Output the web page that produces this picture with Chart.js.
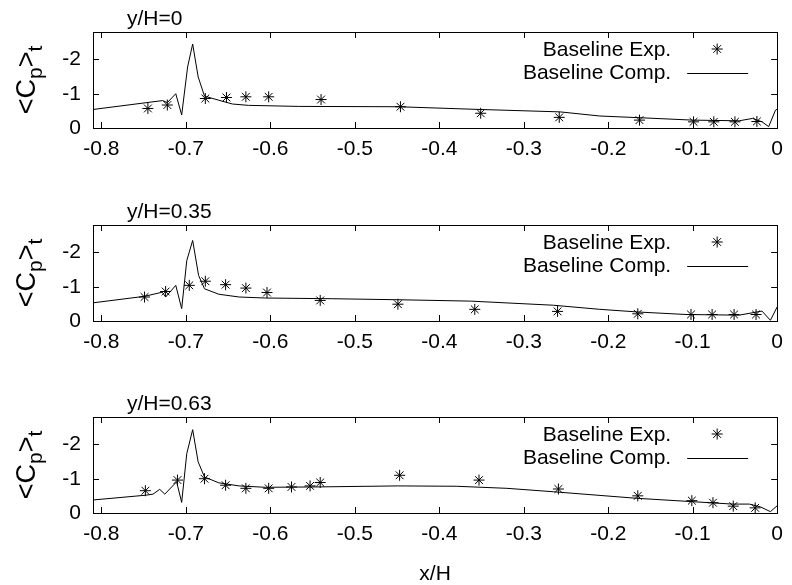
<!DOCTYPE html>
<html lang="en">
<head>
    <meta charset="UTF-8">
    <title>Cp profiles</title>
    <script src="https://cdn.jsdelivr.net/npm/chart.js"></script>
    <style>
        body { margin: 0; background: #fff; }
        .panel { position: absolute; left: 0; }
    </style>
</head>
<body>
    <div class="panel" style="top:0px"><canvas id="chart0" width="792" height="170"></canvas></div>
    <div class="panel" style="top:193px"><canvas id="chart1" width="792" height="170"></canvas></div>
    <div class="panel" style="top:385px"><canvas id="chart2" width="792" height="200"></canvas></div>

    <script>
        // axis ticks
        const xTicks = [-0.8, -0.7, -0.6, -0.5, -0.4, -0.3, -0.2, -0.1, 0];
        const yTicks = [0, -1, -2];
        const titles = ['y/H=0', 'y/H=0.35', 'y/H=0.63'];

        // y/H=0
        const xExp0 = [-0.745, -0.722, -0.677, -0.652, -0.629, -0.602, -0.540, -0.446, -0.351, -0.258, -0.163, -0.099, -0.075, -0.050, -0.024];
        const cpExp0 = [-0.57, -0.67, -0.86, -0.89, -0.91, -0.91, -0.83, -0.62, -0.43, -0.31, -0.23, -0.18, -0.18, -0.18, -0.19];
        const xComp0 = [-0.81, -0.7275, -0.722, -0.712, -0.705, -0.698, -0.692, -0.6855, -0.678, -0.661, -0.645, -0.626, -0.567, -0.449, -0.351, -0.257, -0.210, -0.163, -0.100, -0.045, -0.029, -0.018, -0.010, -0.002, 0];
        const cpComp0 = [-0.54, -0.80, -0.74, -1.00, -0.38, -1.78, -2.45, -1.49, -0.93, -0.81, -0.70, -0.66, -0.63, -0.62, -0.54, -0.47, -0.35, -0.30, -0.23, -0.21, -0.28, -0.18, -0.04, -0.52, -0.55];

        // y/H=0.35
        const xExp1 = [-0.749, -0.724, -0.696, -0.677, -0.653, -0.629, -0.604, -0.541, -0.449, -0.358, -0.260, -0.165, -0.102, -0.077, -0.051, -0.025];
        const cpExp1 = [-0.70, -0.86, -1.04, -1.16, -1.06, -0.96, -0.83, -0.60, -0.49, -0.34, -0.28, -0.21, -0.19, -0.19, -0.19, -0.19];
        const xComp1 = [-0.81, -0.749, -0.728, -0.724, -0.712, -0.705, -0.699, -0.692, -0.685, -0.678, -0.661, -0.637, -0.606, -0.528, -0.449, -0.363, -0.265, -0.210, -0.163, -0.108, -0.045, -0.018, -0.008, 0];
        const cpComp1 = [-0.53, -0.72, -0.84, -0.70, -1.04, -0.36, -1.76, -2.35, -1.33, -0.94, -0.78, -0.70, -0.67, -0.65, -0.62, -0.58, -0.46, -0.34, -0.26, -0.19, -0.17, -0.29, -0.02, -0.41];

        // y/H=0.63
        const xExp2 = [-0.748, -0.710, -0.678, -0.653, -0.629, -0.602, -0.575, -0.553, -0.541, -0.447, -0.353, -0.259, -0.165, -0.101, -0.076, -0.052, -0.026];
        const cpExp2 = [-0.65, -0.96, -1.00, -0.81, -0.72, -0.72, -0.76, -0.79, -0.89, -1.10, -0.96, -0.70, -0.50, -0.36, -0.30, -0.20, -0.15];
        const xComp2 = [-0.81, -0.747, -0.739, -0.731, -0.725, -0.711, -0.705, -0.699, -0.692, -0.6855, -0.678, -0.661, -0.637, -0.606, -0.547, -0.449, -0.380, -0.320, -0.265, -0.167, -0.100, -0.053, -0.033, -0.020, -0.008, 0];
        const cpComp2 = [-0.38, -0.52, -0.55, -0.69, -0.55, -0.91, -0.31, -1.73, -2.43, -1.49, -1.05, -0.88, -0.79, -0.75, -0.76, -0.79, -0.78, -0.72, -0.62, -0.43, -0.33, -0.26, -0.26, -0.18, -0.04, -0.21];

        const FONT = '"Liberation Sans", Arial, sans-serif';

        // frame, inward ticks, title, key and axis labels, gnuplot style
        const gnuplotFrame = {
            id: 'gnuplotFrame',
            afterDraw(chart, args, opts) {
                const ctx = chart.ctx;
                const a = chart.chartArea;
                ctx.save();
                ctx.strokeStyle = '#000';
                ctx.fillStyle = '#000';
                ctx.lineWidth = 1;
                ctx.strokeRect(Math.round(a.left) + 0.5, Math.round(a.top) + 0.5, Math.round(a.right - a.left), Math.round(a.bottom - a.top));

                ctx.beginPath();
                chart.scales.x.ticks.forEach(t => {
                    const px = Math.round(chart.scales.x.getPixelForValue(t.value)) + 0.5;
                    ctx.moveTo(px, a.bottom); ctx.lineTo(px, a.bottom - 6);
                    ctx.moveTo(px, a.top); ctx.lineTo(px, a.top + 6);
                });
                chart.scales.y.ticks.forEach(t => {
                    const py = Math.round(chart.scales.y.getPixelForValue(t.value)) + 0.5;
                    ctx.moveTo(a.left, py); ctx.lineTo(a.left + 6, py);
                    ctx.moveTo(a.right, py); ctx.lineTo(a.right - 6, py);
                });
                ctx.stroke();

                // title
                ctx.font = '21px ' + FONT;
                ctx.textAlign = 'left';
                ctx.textBaseline = 'alphabetic';
                ctx.fillText(opts.title, a.left + 34, a.top - 7);

                // key
                ctx.textAlign = 'right';
                ctx.textBaseline = 'middle';
                ctx.fillText('Baseline Exp.', a.right - 106, a.top + 18);
                ctx.fillText('Baseline Comp.', a.right - 106, a.top + 41);
                const sx = a.right - 60, sy = a.top + 17, r = 5.5;
                ctx.beginPath();
                ctx.moveTo(sx - r, sy); ctx.lineTo(sx + r, sy);
                ctx.moveTo(sx, sy - r); ctx.lineTo(sx, sy + r);
                ctx.moveTo(sx - r * 0.7, sy - r * 0.7); ctx.lineTo(sx + r * 0.7, sy + r * 0.7);
                ctx.moveTo(sx - r * 0.7, sy + r * 0.7); ctx.lineTo(sx + r * 0.7, sy - r * 0.7);
                ctx.moveTo(a.right - 90, a.top + 41.5); ctx.lineTo(a.right - 29, a.top + 41.5);
                ctx.stroke();

                // y label <C_p>_t
                ctx.translate(27, (a.top + a.bottom) / 2);
                ctx.rotate(-Math.PI / 2);
                ctx.textAlign = 'left';
                ctx.textBaseline = 'alphabetic';
                const big = '27px ' + FONT, small = '21px ' + FONT;
                const parts = [['<C', big, 0], ['p', small, 7], ['>', big, 0], ['t', small, 7]];
                let w = 0;
                parts.forEach(p => { ctx.font = p[1]; w += ctx.measureText(p[0]).width; });
                let x = -w / 2;
                parts.forEach(p => {
                    ctx.font = p[1];
                    ctx.fillText(p[0], x, 8 + p[2]);
                    x += ctx.measureText(p[0]).width;
                });
                ctx.restore();

                if (opts.xLabel) {
                    ctx.save();
                    ctx.font = '21px ' + FONT;
                    ctx.textAlign = 'center';
                    ctx.textBaseline = 'alphabetic';
                    ctx.fillText(opts.xLabel, (a.left + a.right) / 2, a.bottom + 67);
                    ctx.restore();
                }
            }
        };

        const panels = [
            [xExp0, cpExp0, xComp0, cpComp0],
            [xExp1, cpExp1, xComp1, cpComp1],
            [xExp2, cpExp2, xComp2, cpComp2]
        ];

        panels.forEach((p, i) => {
            const canvas = document.getElementById('chart' + i);
            const ctx = canvas.getContext('2d');
            new Chart(ctx, {
                type: 'scatter',
                data: {
                    datasets: [{
                        label: 'Baseline Exp.',
                        data: p[0].map((x, k) => ({ x: x, y: p[1][k] })),
                        pointStyle: 'star',
                        pointRadius: 5.5,
                        borderColor: '#000',
                        backgroundColor: '#000',
                        borderWidth: 1,
                        showLine: false
                    }, {
                        label: 'Baseline Comp.',
                        data: p[2].map((x, k) => ({ x: x, y: p[3][k] })),
                        showLine: true,
                        pointRadius: 0,
                        borderColor: '#000',
                        borderWidth: 1,
                        tension: 0
                    }]
                },
                options: {
                    responsive: false,
                    animation: false,
                    events: [],
                    layout: { padding: { top: 32, right: 10, left: 0, bottom: 0 } },
                    plugins: {
                        legend: { display: false },
                        tooltip: { enabled: false },
                        gnuplotFrame: { title: titles[i], xLabel: i === 2 ? 'x/H' : '' }
                    },
                    scales: {
                        x: {
                            type: 'linear',
                            min: -0.81,
                            max: 0,
                            grid: { display: false, drawTicks: false },
                            border: { display: false },
                            afterBuildTicks: axis => { axis.ticks = xTicks.map(v => ({ value: v })); },
                            afterFit: axis => { axis.height = canvas.height - 32 - 96; },
                            ticks: {
                                padding: 9,
                                color: '#000',
                                font: { family: FONT, size: 21 },
                                maxRotation: 0,
                                autoSkip: false,
                                callback: v => String(Math.round(v * 10) / 10)
                            }
                        },
                        y: {
                            min: -2.8,
                            max: 0,
                            reverse: true,
                            grid: { display: false, drawTicks: false },
                            border: { display: false },
                            afterBuildTicks: axis => { axis.ticks = yTicks.map(v => ({ value: v })); },
                            afterFit: axis => { axis.width = 93; },
                            ticks: {
                                padding: 12,
                                color: '#000',
                                font: { family: FONT, size: 21 },
                                autoSkip: false,
                                callback: v => String(v)
                            }
                        }
                    }
                },
                plugins: [gnuplotFrame]
            });
        });
    </script>
</body>
</html>
